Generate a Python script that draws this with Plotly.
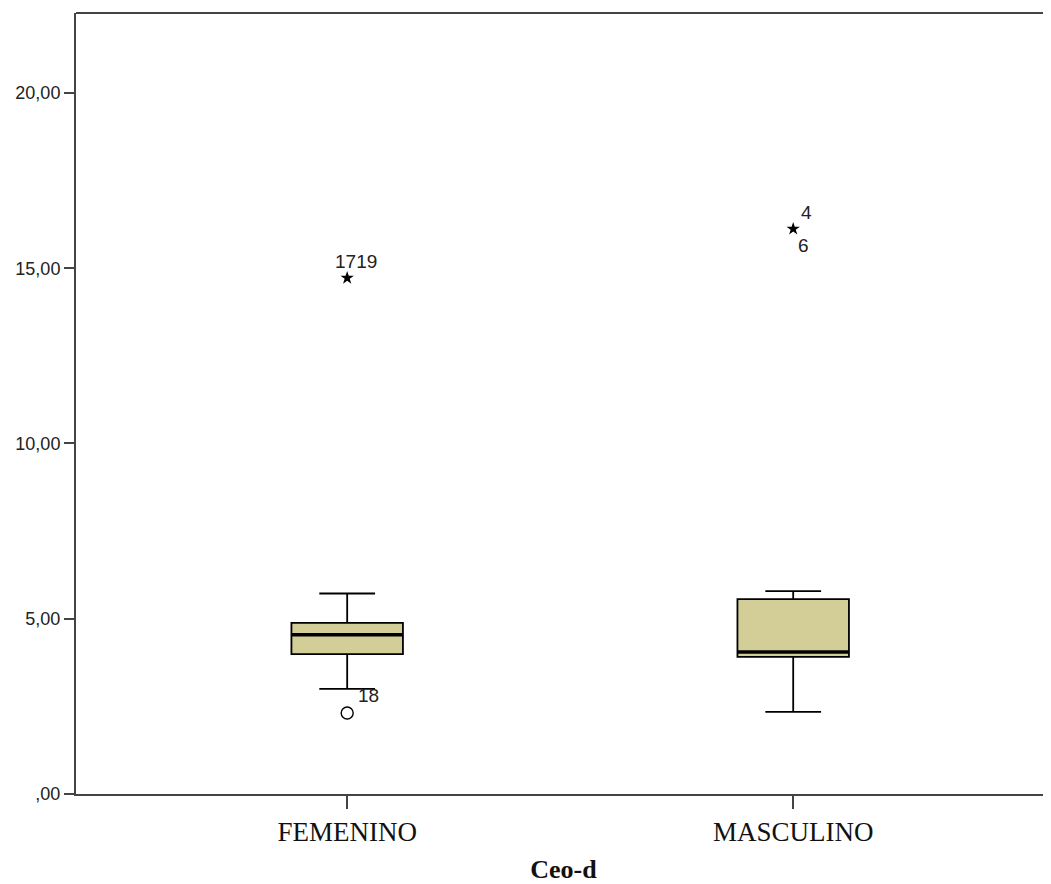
import plotly.graph_objects as go

categories = ["FEMENINO", "MASCULINO"]
positions = [0, 1]
q1 = [3.99, 3.91]
median = [4.54, 4.05]
q3 = [4.88, 5.56]
lower_fence = [3.00, 2.34]
upper_fence = [5.72, 5.79]

# outliers
mild_x = [0]
mild_y = [2.31]
mild_labels = ["18"]
extreme_x = [0, 1]
extreme_y = [14.72, 16.12]
extreme_labels = ["1719", "4"]
extreme_labels_below = ["", "6"]

ytick_vals = [0, 5, 10, 15, 20]
ytick_text = [",00", "5,00", "10,00", "15,00", "20,00"]

fill = "#d3ce97"
box_w = 0.25
lab_font = dict(family="Liberation Sans", size=19, color="#222")

fig = go.Figure()
for i, cat in enumerate(categories):
    fig.add_trace(go.Box(
        x=[positions[i]], q1=[q1[i]], median=[median[i]], q3=[q3[i]],
        lowerfence=[lower_fence[i]], upperfence=[upper_fence[i]],
        width=box_w, whiskerwidth=0.5, fillcolor=fill,
        line=dict(color="black", width=1.8), boxpoints=False,
        showlegend=False, hoverinfo="skip"))
    fig.add_trace(go.Scatter(
        x=[positions[i] - box_w / 2, positions[i] + box_w / 2],
        y=[median[i], median[i]], mode="lines",
        line=dict(color="black", width=3.5), showlegend=False, hoverinfo="skip"))

fig.add_trace(go.Scatter(
    x=mild_x, y=mild_y, mode="markers",
    marker=dict(symbol="circle-open", size=12, color="black", line=dict(width=1.4)),
    showlegend=False, hoverinfo="skip"))
fig.add_trace(go.Scatter(
    x=extreme_x, y=extreme_y, mode="markers",
    marker=dict(symbol="star", size=10, color="black"),
    showlegend=False, hoverinfo="skip"))

for x, y, t in zip(mild_x, mild_y, mild_labels):
    fig.add_annotation(x=x, y=y, text=t, showarrow=False, xshift=21, yshift=18, font=lab_font)
for x, y, t, tb in zip(extreme_x, extreme_y, extreme_labels, extreme_labels_below):
    if tb:
        fig.add_annotation(x=x, y=y, text=t, showarrow=False, xshift=13, yshift=16, font=lab_font)
        fig.add_annotation(x=x, y=y, text=tb, showarrow=False, xshift=10, yshift=-17, font=lab_font)
    else:
        fig.add_annotation(x=x, y=y, text=t, showarrow=False, xshift=9, yshift=17, font=lab_font)

# top frame line (no right frame, as in the reference)
fig.add_shape(type="line", xref="paper", yref="paper", x0=0, x1=1, y0=1, y1=1,
              line=dict(color="#444", width=2))

fig.update_layout(
    width=1043, height=876,
    margin=dict(l=68, r=0, t=5, b=90, autoexpand=False),
    paper_bgcolor="white", plot_bgcolor="white",
    xaxis=dict(range=[-0.608, 1.578], tickvals=positions, ticktext=categories,
               automargin=False,
               showgrid=False, zeroline=False, showline=True, linecolor="#444",
               linewidth=2, mirror=False, ticks="outside", ticklen=13, tickwidth=1.5,
               tickcolor="#444",
               tickfont=dict(family="Liberation Serif", size=27, color="#111"),
               title=dict(text="<b>Ceo-d</b>", standoff=21,
                          font=dict(family="Liberation Serif", size=26, color="#111"))),
    yaxis=dict(range=[0, 22.28], tickvals=ytick_vals, ticktext=ytick_text,
               automargin=False,
               showgrid=False, zeroline=False, showline=True, linecolor="#444",
               linewidth=2, ticks="outside", ticklen=10, tickwidth=1.5, tickcolor="#444",
               tickfont=dict(family="Liberation Sans", size=18, color="#222")),
)

fig.write_html("out.html")
